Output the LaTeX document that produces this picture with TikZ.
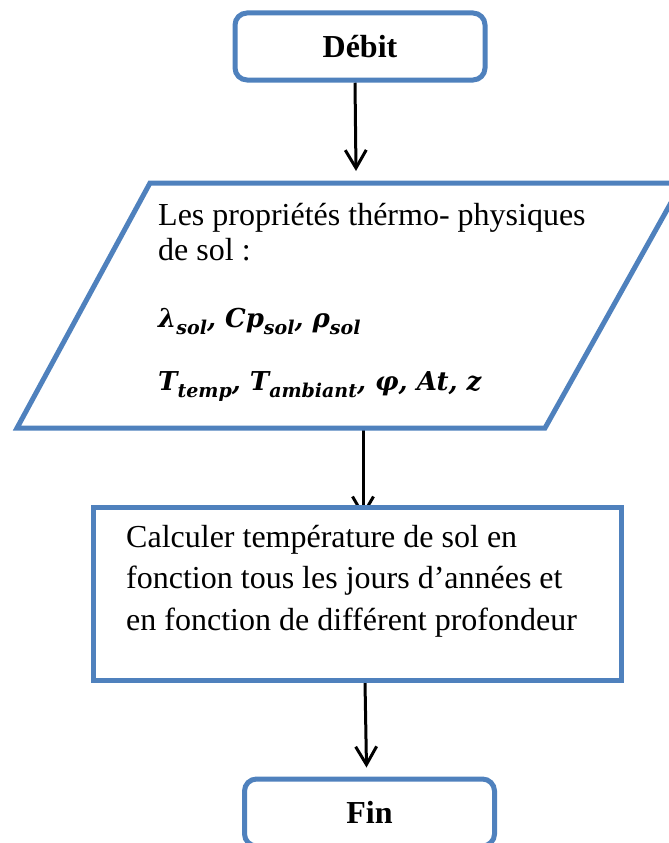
\documentclass[tikz,border=0pt]{standalone}
\usepackage{fontspec}
\setmainfont{Liberation Serif}
\newfontfamily\mfont{DejaVu Serif}
\usetikzlibrary{arrows.meta,backgrounds}
\definecolor{bl}{HTML}{4F81BD}
\newcommand\sbx[1]{\raisebox{-0.3em}{\fontsize{19}{19}\selectfont #1}}
\tikzset{
  x=1pt,y=-1pt,
  term/.style={draw=bl,line width=5pt,rounded corners=12pt,fill=white,
    minimum width=250pt,minimum height=67pt,inner sep=0pt,
    font=\fontsize{32}{38}\selectfont\bfseries},
  procbox/.style={draw=bl,line width=5pt,fill=white,
    minimum width=528pt,minimum height=173pt,inner sep=0pt},
  txt/.style={anchor=base west,inner sep=0pt,font=\fontsize{32}{38}\selectfont},
  mtxt/.style={anchor=base west,inner sep=0pt,font=\fontsize{26}{30}\selectfont\mfont\bfseries\itshape},
  arr/.style={draw=black,line width=3pt,-{Straight Barb[length=18pt,width=21pt,line width=3pt]}},
  iobox/.style={draw=bl,line width=5pt,fill=white,line join=miter}
}
\begin{document}
\begin{tikzpicture}
\useasboundingbox (0,0) rectangle (669,843);
% start
\node[term] (debit) at (360,46.5) {Débit};
% input/output parallelogram
\draw[iobox] (150,183) coordinate (ptl) -- (682,183) coordinate (ptr)
  -- (545,428) coordinate (pbr) -- (17,428) coordinate (pbl) -- cycle;
\coordinate (ptop) at (356,171);
\coordinate (pbot) at (363,430);
\node[txt] (p1) at (158,225) {Les propriétés thérmo- physiques};
\node[txt] (p2) at (158,260) {de sol :};
\node[mtxt] (m1) at (158,327) {λ\sbx{sol}, Cp\sbx{sol}, ρ\sbx{sol}};
\node[mtxt] (m2) at (158,390) {T\sbx{temp}, T\sbx{ambiant}, φ, At, z};
% process
\node[procbox] (calc) at (357,593.5) {};
\node[txt] (c1) at (126,547) {Calculer température de sol en};
\node[txt] (c2) at (126,588) {fonction tous les jours d’années et};
\node[txt] (c3) at (126,630) {en fonction de différent profondeur};
% end
\node[term] (fin) at (369.5,812.5) {Fin};
% connectors
\begin{pgfonlayer}{background}
\draw[arr] ([xshift=-5pt]debit.south) -- (ptop);
\draw[arr] (pbot) -- ([xshift=6pt,yshift=-13pt]calc.north);
\draw[arr] ([xshift=8pt]calc.south) -- ([xshift=-3pt,yshift=9pt]fin.north);
\end{pgfonlayer}
\end{tikzpicture}
\end{document}
